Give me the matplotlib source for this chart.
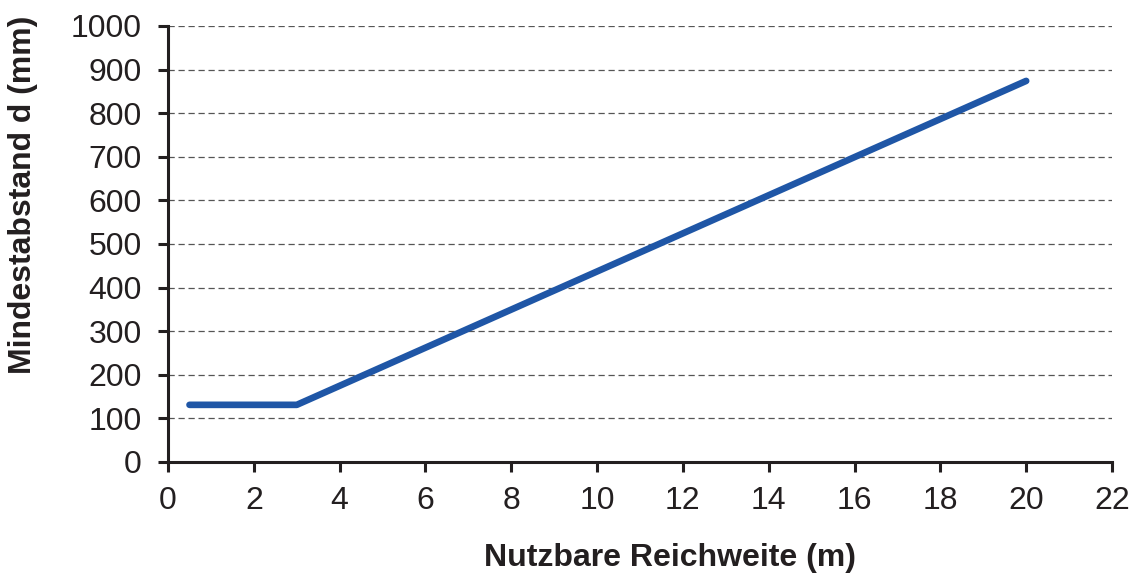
import matplotlib
matplotlib.use("Agg")
import matplotlib.pyplot as plt

plt.rcParams['font.family'] = ['Liberation Sans', 'DejaVu Sans']

# Nutzbare Reichweite (m) und Mindestabstand d (mm)
reichweite = [0.5, 3, 20]
mindestabstand = [131, 131, 874]

x_ticks = list(range(0, 23, 2))
y_ticks = list(range(0, 1001, 100))

fig = plt.figure(figsize=(11.37, 5.76), dpi=100)
ax = fig.add_axes([0.1478, 0.198, 0.8302, 0.7569])

ax.plot(reichweite, mindestabstand, color='#1f56a6', linewidth=4.8,
        solid_capstyle='round', solid_joinstyle='round', zorder=3)

ax.set_xlim(0, 22)
ax.set_ylim(0, 1000)
ax.set_xticks(x_ticks)
ax.set_yticks(y_ticks)

ax.yaxis.grid(True, linestyle=(0, (5, 3)), color='#555555', linewidth=0.9)
ax.set_axisbelow(True)

for s in ['top', 'right']:
    ax.spines[s].set_visible(False)
for s in ['left', 'bottom']:
    ax.spines[s].set_color('#231f20')
    ax.spines[s].set_linewidth(2.2)

ax.tick_params(axis='both', direction='out', length=7, width=2.2,
               color='#231f20', labelsize=23, labelcolor='#231f20')
ax.tick_params(axis='x', pad=10)
ax.tick_params(axis='y', pad=12)

ax.set_xlabel('Nutzbare Reichweite (m)', fontsize=23, fontweight='bold',
              color='#231f20')
ax.set_ylabel('Mindestabstand d (mm)', fontsize=23, fontweight='bold',
              color='#231f20')
# Beschriftungen wie im Original leicht versetzt
ax.xaxis.set_label_coords(0.532, -0.186)
ax.yaxis.set_label_coords(-0.1377, 0.612)

fig.savefig('out.png', dpi=100)
